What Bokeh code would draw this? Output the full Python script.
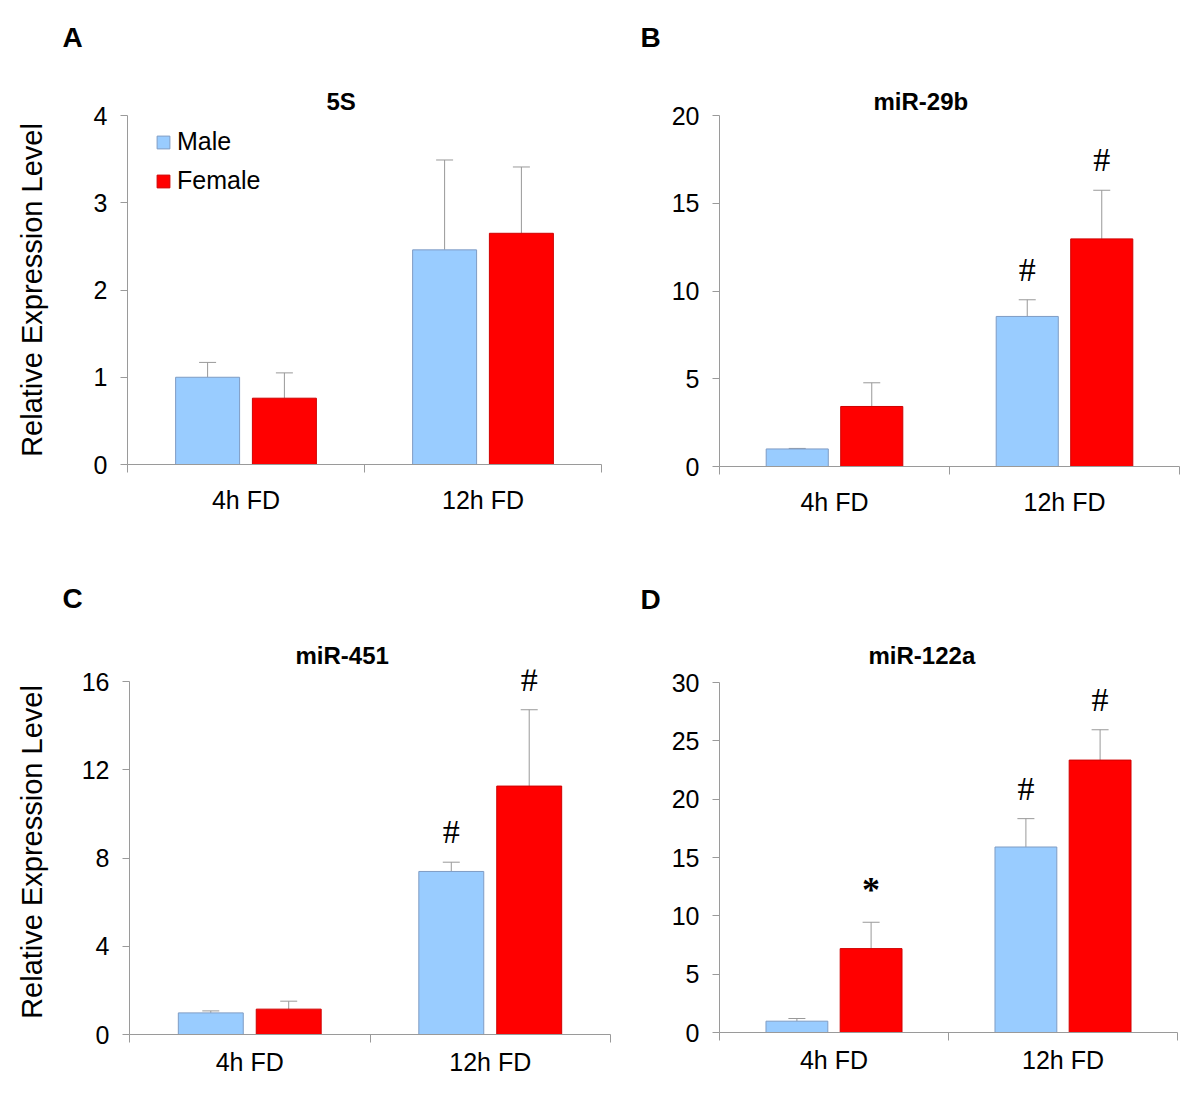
from bokeh.plotting import figure
from bokeh.models import Range1d, FixedTicker, Whisker, TeeHead, Title, ColumnDataSource, LabelSet
from bokeh.layouts import column, row
from bokeh.embed import file_html
from bokeh.resources import INLINE

FONT = "Liberation Sans"

categories = ["4h FD", "12h FD"]
groups = ["Male", "Female"]

# Panel A: 5S
a_title = "5S"
a_yticks = [0, 1, 2, 3, 4]
a_male = [1.00, 2.46]
a_male_err = [0.17, 1.03]
a_female = [0.76, 2.65]
a_female_err = [0.29, 0.76]
a_male_marks = ["", ""]
a_female_marks = ["", ""]

# Panel B: miR-29b
b_title = "miR-29b"
b_yticks = [0, 5, 10, 15, 20]
b_male = [1.00, 8.55]
b_male_err = [0.03, 0.95]
b_female = [3.42, 12.97]
b_female_err = [1.35, 2.77]
b_male_marks = ["", "#"]
b_female_marks = ["", "#"]

# Panel C: miR-451
c_title = "miR-451"
c_yticks = [0, 4, 8, 12, 16]
c_male = [0.98, 7.39]
c_male_err = [0.09, 0.42]
c_female = [1.15, 11.26]
c_female_err = [0.36, 3.46]
c_male_marks = ["", "#"]
c_female_marks = ["", "#"]

# Panel D: miR-122a
d_title = "miR-122a"
d_yticks = [0, 5, 10, 15, 20, 25, 30]
d_male = [0.97, 15.9]
d_male_err = [0.23, 2.43]
d_female = [7.19, 23.35]
d_female_err = [2.26, 2.60]
d_male_marks = ["", "#"]
d_female_marks = ["*", "#"]

MALE_FILL = "#99CCFF"
MALE_LINE = "#7f9cc4"
FEMALE_FILL = "#FF0000"
FEMALE_LINE = "#d00000"
AXIS_COLOR = "#9a9a9a"
ERR_COLOR = "#999999"

OFFSET = 0.162
BAR_W = 0.27

# symbol -> (pixel lift above error bar, font size, style)
MARK_STYLE = {"#": (12, "34px", "normal"), "*": (12, "36px", "bold")}


def make_panel(letter, title, yticks, male, male_err, female, female_err,
               male_marks, female_marks, geo, ylabel=None, legend=False):
    fw, fh, bl, br, bt, bb = geo["frame"]
    head = geo.get("headroom", 0)
    ymin, ymax = yticks[0], yticks[-1]
    yend = ymax + head * (ymax - ymin) / fh
    p = figure(frame_width=fw, frame_height=fh + head,
               min_border_left=bl, min_border_right=br,
               min_border_top=bt - head, min_border_bottom=bb,
               x_range=Range1d(0, len(categories)),
               y_range=Range1d(ymin, yend),
               output_backend="svg", toolbar_location=None, tools="")
    p.outline_line_color = None
    p.xgrid.grid_line_color = None
    p.ygrid.grid_line_color = None
    p.background_fill_color = "white"
    p.border_fill_color = "white"

    n = len(categories)
    xm = [i + 0.5 - OFFSET for i in range(n)]
    xf = [i + 0.5 + OFFSET for i in range(n)]

    series = [
        (xm, male, male_err, male_marks, MALE_FILL, MALE_LINE, groups[0]),
        (xf, female, female_err, female_marks, FEMALE_FILL, FEMALE_LINE, groups[1]),
    ]
    for xs, vals, errs, marks, fill, line, name in series:
        src = ColumnDataSource(dict(x=xs, top=vals,
                                    upper=[v + e for v, e in zip(vals, errs)]))
        kw = dict(legend_label=name) if legend else {}
        p.vbar(x="x", top="top", bottom=0, width=BAR_W, source=src,
               fill_color=fill, line_color=line, line_width=1, **kw)
        w = Whisker(base="x", lower="top", upper="upper", source=src,
                    dimension="height", line_color=ERR_COLOR, line_width=1,
                    lower_head=None,
                    upper_head=TeeHead(size=17, line_color=ERR_COLOR, line_width=1))
        w.level = "underlay"
        p.add_layout(w)
        for sym, (dy, fs, fst) in MARK_STYLE.items():
            mx = [x for x, m in zip(xs, marks) if m == sym]
            my = [v + e for v, e, m in zip(vals, errs, marks) if m == sym]
            if mx:
                msrc = ColumnDataSource(dict(x=mx, y=my, t=[sym] * len(mx)))
                p.add_layout(LabelSet(x="x", y="y", text="t", source=msrc,
                                      text_align="center", text_baseline="bottom",
                                      y_offset=dy, text_font=FONT, text_font_size=fs,
                                      text_font_style=fst, text_color="black"))

    # x axis
    xa = p.xaxis[0]
    xa.ticker = FixedTicker(ticks=[i + 0.5 for i in range(n)],
                            minor_ticks=list(range(n + 1)))
    xa.major_label_overrides = {i + 0.5: c for i, c in enumerate(categories)}
    xa.major_tick_line_color = None
    xa.major_tick_out = 0
    xa.major_tick_in = 0
    xa.minor_tick_out = 8
    xa.minor_tick_in = 0
    xa.minor_tick_line_color = AXIS_COLOR
    xa.axis_line_color = AXIS_COLOR
    xa.major_label_text_font = FONT
    xa.major_label_text_font_size = "25px"
    xa.major_label_text_color = "black"
    xa.major_label_standoff = geo["xstand"]

    # y axis
    ya = p.yaxis[0]
    ya.ticker = FixedTicker(ticks=yticks, minor_ticks=[])
    ya.bounds = (ymin, ymax)
    ya.major_tick_out = 7
    ya.major_tick_in = 0
    ya.major_tick_line_color = AXIS_COLOR
    ya.minor_tick_line_color = None
    ya.axis_line_color = AXIS_COLOR
    ya.major_label_text_font = FONT
    ya.major_label_text_font_size = "25px"
    ya.major_label_text_color = "black"
    ya.major_label_standoff = 13
    if ylabel:
        ya.axis_label = ylabel
        ya.axis_label_text_font = FONT
        ya.axis_label_text_font_size = "29px"
        ya.axis_label_text_font_style = "normal"
        ya.axis_label_text_color = "black"
        ya.axis_label_standoff = geo["ylstand"]

    p.add_layout(Title(text=title, align="left", offset=geo["title_off"],
                       standoff=geo["title_stand"], text_font=FONT,
                       text_font_size="24px", text_font_style="bold",
                       text_color="black"), "above")
    letter_text = letter + "\n" * (geo["letter_lines"] - 1)
    p.add_layout(Title(text=letter_text, align="left", offset=geo["letter_off"],
                       standoff=geo["letter_stand"], text_font=FONT,
                       text_font_size="28px", text_font_style="bold",
                       text_color="black"), "above")

    if legend:
        lg = p.legend[0]
        lg.location = (28, 269)
        lg.padding = 0
        lg.margin = 0
        lg.spacing = 10
        lg.border_line_color = None
        lg.background_fill_alpha = 0
        lg.glyph_width = 16
        lg.glyph_height = 16
        lg.label_height = 16
        lg.label_standoff = 6
        lg.label_text_font = FONT
        lg.label_text_font_size = "25px"
        lg.label_text_color = "black"
    return p


geo_a = dict(frame=(474, 349, 127, 7, 115, 60), xstand=13, ylstand=43,
             title_off=199, title_stand=2, letter_off=-65, letter_stand=2, letter_lines=2)
geo_b = dict(frame=(460, 351, 111, 13, 115, 58), xstand=13, ylstand=0,
             title_off=154, title_stand=2, letter_off=-79, letter_stand=2, letter_lines=2)
geo_c = dict(frame=(481, 353, 129, 2, 157, 60), xstand=5, ylstand=31, headroom=12,
             title_off=166, title_stand=2, letter_off=-67, letter_stand=50, letter_lines=1)
geo_d = dict(frame=(458, 350, 107, 15, 158, 62), xstand=5, ylstand=0, headroom=13,
             title_off=149, title_stand=2, letter_off=-79, letter_stand=48, letter_lines=1)

YLABEL = "Relative Expression Level"

pA = make_panel("A", a_title, a_yticks, a_male, a_male_err, a_female, a_female_err,
                a_male_marks, a_female_marks, geo_a, ylabel=YLABEL, legend=True)
pB = make_panel("B", b_title, b_yticks, b_male, b_male_err, b_female, b_female_err,
                b_male_marks, b_female_marks, geo_b)
pC = make_panel("C", c_title, c_yticks, c_male, c_male_err, c_female, c_female_err,
                c_male_marks, c_female_marks, geo_c, ylabel=YLABEL)
pD = make_panel("D", d_title, d_yticks, d_male, d_male_err, d_female, d_female_err,
                d_male_marks, d_female_marks, geo_d)

layout = column(row(pA, pB), row(pC, pD))

with open("out.html", "w") as f:
    f.write(file_html(layout, INLINE))
